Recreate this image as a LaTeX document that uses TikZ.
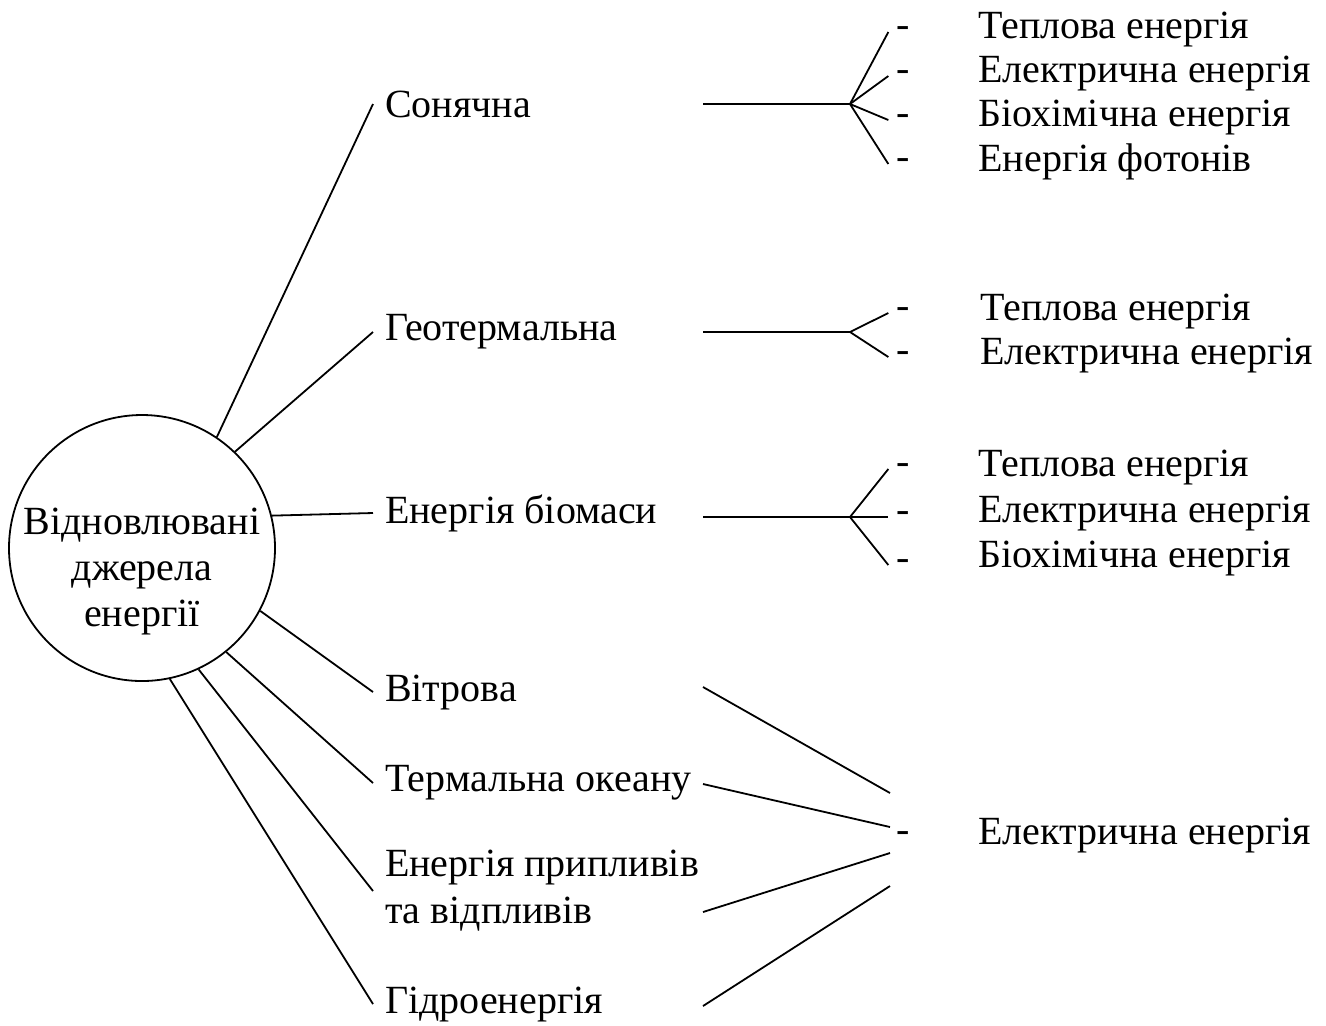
\documentclass[tikz,border=0pt]{standalone}
\usepackage{fontspec}
\setmainfont{Liberation Serif}
\newfontfamily\ukrfont{Liberation Serif}
\tikzset{
  lbl/.style={anchor=west, inner sep=0pt, outer sep=6pt, align=left, font=\ukrfont\fontsize{20}{23.5}\selectfont},
  txt/.style={anchor=west, inner sep=0pt, font=\ukrfont\fontsize{20}{23}\selectfont},
  dsh/.style={inner sep=0pt, outer sep=4pt, font=\ukrfont\fontsize{20}{23}\selectfont},
  src/.style={circle, draw, line width=0.9pt, minimum size=133pt, inner sep=0pt},
  srctxt/.style={inner sep=0pt, align=center, font=\ukrfont\fontsize{20}{23}\selectfont},
  ln/.style={line width=0.9pt}
}

\begin{document}
\begin{tikzpicture}[x=0.5pt, y=-0.5pt]
  \useasboundingbox (0,0) rectangle (1326,1025);

  \node[src] (src) at (142,548) {};
  \node[srctxt] (srcT) at (142,571) {Відновлювані\\джерела\\енергії};

  \node[lbl] (sol) at (373,104) {Сонячна};
  \node[lbl] (geo) at (373,332) {Геотермальна};
  \node[lbl] (bio) at (373,513) {Енергія біомаси};
  \node[lbl] (wind) at (373,692) {Вітрова};
  \node[lbl] (ocean) at (373,783) {Термальна океану};
  \node[lbl] (tide) at (373,891) {Енергія припливів\\та відпливів};
  \node[lbl] (hydro) at (373,1004) {Гідроенергія};

  \draw[ln] (src.56) -- (sol.west);
  \draw[ln] (src.46) -- (geo.west);
  \draw[ln] (src.14) -- (bio.west);
  \draw[ln] (src.-28) -- (wind.west);
  \draw[ln] (src.-51) -- (ocean.west);
  \draw[ln] (src.-65) -- (tide.west);
  \draw[ln] (src.-78) -- (hydro.west);

  % solar
  \coordinate (solS) at (703,104);
  \coordinate (solJ) at (850,104);
  \node[dsh] (sol1) at (903,32) {-};
  \node[dsh] (sol2) at (903,76) {-};
  \node[dsh] (sol3) at (903,120) {-};
  \node[dsh] (sol4) at (903,164) {-};
  \node[txt] (solT1) at (978,30) {Теплова енергія};
  \node[txt] (solT2) at (978,74) {Електрична енергія};
  \node[txt] (solT3) at (978,118) {Біохімічна енергія};
  \node[txt] (solT4) at (978,162) {Енергія фотонів};
  \draw[ln] (solS) -- (solJ);
  \draw[ln] (solJ) -- (sol1.west);
  \draw[ln] (solJ) -- (sol2.west);
  \draw[ln] (solJ) -- (sol3.west);
  \draw[ln] (solJ) -- (sol4.west);

  % geothermal
  \coordinate (geoS) at (703,332);
  \coordinate (geoJ) at (850,332);
  \node[dsh] (geo1) at (903,313) {-};
  \node[dsh] (geo2) at (903,357) {-};
  \node[txt] (geoT1) at (980,311) {Теплова енергія};
  \node[txt] (geoT2) at (980,355) {Електрична енергія};
  \draw[ln] (geoS) -- (geoJ);
  \draw[ln] (geoJ) -- (geo1.west);
  \draw[ln] (geoJ) -- (geo2.west);

  % biomass
  \coordinate (bioS) at (703,517);
  \coordinate (bioJ) at (850,517);
  \node[dsh] (bio1) at (903,469) {-};
  \node[dsh] (bio2) at (903,517) {-};
  \node[dsh] (bio3) at (903,565) {-};
  \node[txt] (bioT1) at (978,467) {Теплова енергія};
  \node[txt] (bioT2) at (978,513) {Електрична енергія};
  \node[txt] (bioT3) at (978,558) {Біохімічна енергія};
  \draw[ln] (bioS) -- (bioJ);
  \draw[ln] (bioJ) -- (bio1.west);
  \draw[ln] (bioJ) -- (bio2.west);
  \draw[ln] (bioJ) -- (bio3.west);

  % electricity only
  \node[dsh] (el) at (903,837) {-};
  \node[txt] (elT) at (978,835) {Електрична енергія};
  \coordinate (windS) at (703,687);
  \coordinate (oceanS) at (703,784);
  \coordinate (tideS) at (703,912);
  \coordinate (hydroS) at (703,1006);
  \coordinate (el1) at (890,793);
  \coordinate (el2) at (890,827);
  \coordinate (el3) at (890,853);
  \coordinate (el4) at (890,886);
  \draw[ln] (windS) -- (el1);
  \draw[ln] (oceanS) -- (el2);
  \draw[ln] (tideS) -- (el3);
  \draw[ln] (hydroS) -- (el4);
\end{tikzpicture}
\end{document}
